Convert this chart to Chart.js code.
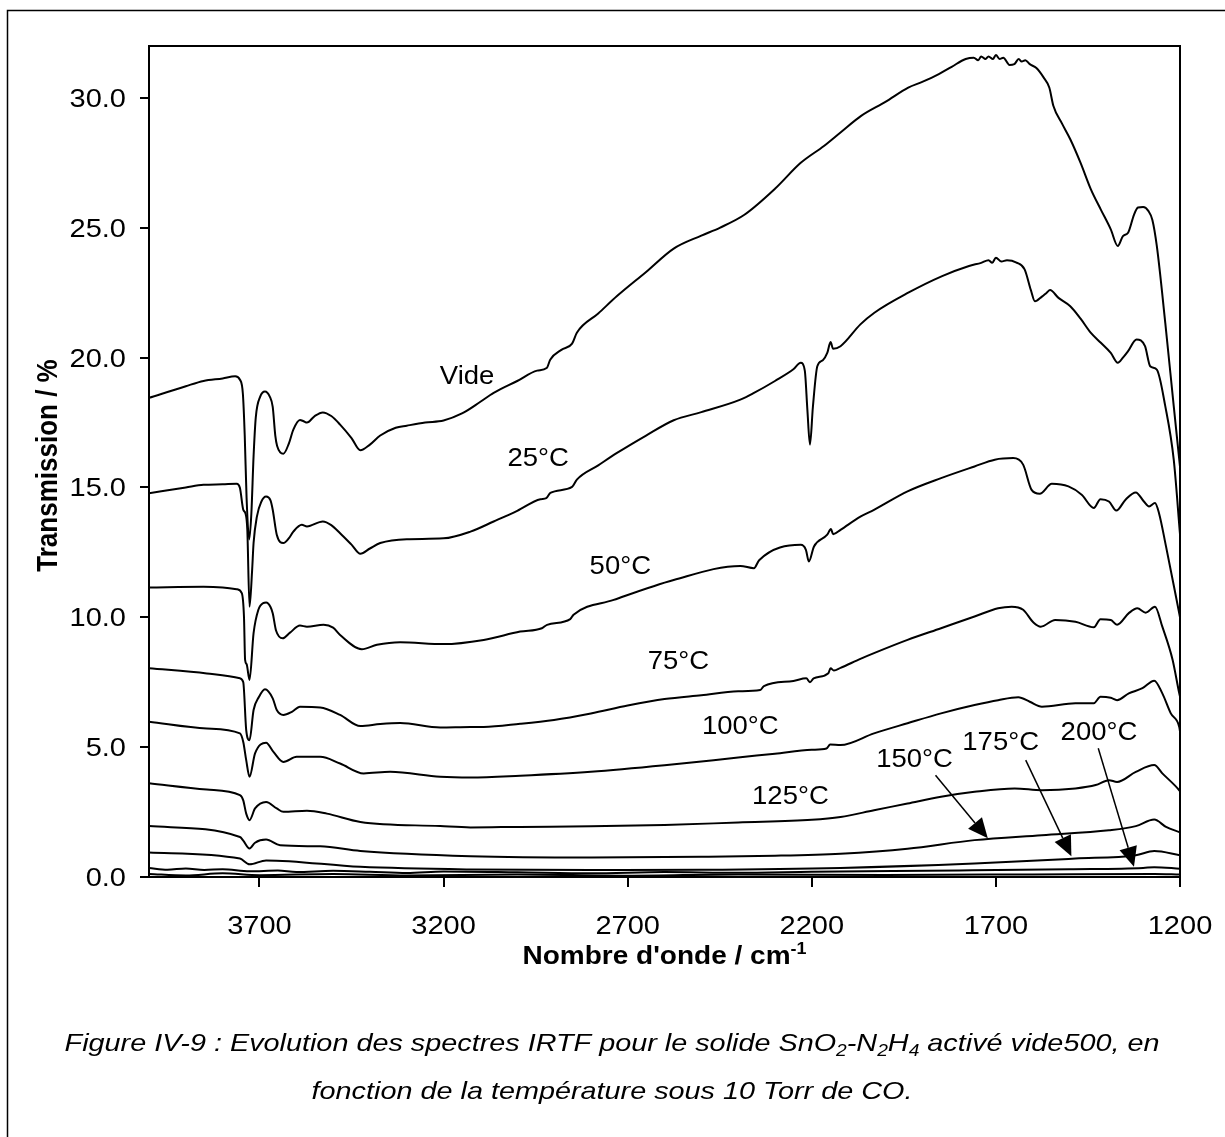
<!DOCTYPE html>
<html><head><meta charset="utf-8">
<script src="https://cdn.jsdelivr.net/npm/chart.js@4/dist/chart.umd.min.js"></script>
<style>html,body{margin:0;padding:0;background:#fff;}#wrap{width:1225px;height:1137px;}</style>
</head><body><div id="wrap"><canvas id="c" width="1225" height="1137"></canvas></div>
<script>
// ---------- data (wavenumber cm-1, transmission %) ----------
const vide = [[4000,18.45],[3900,18.9],[3852,19.1],[3800,19.2],[3766,19.28],[3753,19.15],[3745,18.6],[3740,17.0],[3735,14.6],[3728,13.0],[3722,14.0],[3716,16.2],[3710,17.7],[3698,18.5],[3685,18.7],[3672,18.5],[3664,18.1],[3657,17.0],[3652,16.6],[3635,16.3],[3620,16.7],[3608,17.23],[3590,17.6],[3580,17.55],[3571,17.5],[3550,17.75],[3528,17.89],[3505,17.75],[3481,17.42],[3450,16.9],[3426,16.43],[3400,16.65],[3372,17.0],[3330,17.3],[3300,17.38],[3250,17.5],[3200,17.58],[3150,17.85],[3100,18.3],[3064,18.64],[3000,19.1],[2946,19.5],[2920,19.6],[2910,19.93],[2880,20.3],[2851,20.54],[2838,20.96],[2780,21.7],[2729,22.37],[2650,23.3],[2575,24.2],[2500,24.7],[2450,25.0],[2383,25.5],[2300,26.5],[2230,27.5],[2167,28.15],[2122,28.67],[2066,29.31],[2000,29.85],[1938,30.4],[1900,30.62],[1855,30.92],[1820,31.2],[1782,31.5],[1760,31.55],[1748,31.45],[1740,31.6],[1728,31.5],[1720,31.6],[1708,31.5],[1700,31.65],[1690,31.5],[1680,31.55],[1663,31.27],[1650,31.3],[1638,31.5],[1630,31.4],[1620,31.45],[1608,31.3],[1590,31.15],[1571,30.8],[1555,30.4],[1544,29.7],[1520,29.0],[1498,28.41],[1470,27.5],[1442,26.48],[1415,25.7],[1388,24.94],[1369,24.3],[1355,24.68],[1341,24.81],[1325,25.5],[1314,25.78],[1300,25.8],[1286,25.65],[1275,25.3],[1263,24.3],[1240,21.34],[1217,18.13],[1200,15.8]];
const t25 = [[4000,14.78],[3900,15.0],[3852,15.1],[3800,15.12],[3762,15.14],[3753,14.98],[3744,14.14],[3738,14.0],[3733,13.37],[3727,10.41],[3720,11.8],[3716,12.86],[3707,13.88],[3695,14.45],[3682,14.65],[3670,14.5],[3664,14.14],[3653,13.18],[3635,12.86],[3620,13.05],[3608,13.3],[3585,13.56],[3571,13.5],[3528,13.69],[3505,13.55],[3481,13.24],[3450,12.8],[3426,12.45],[3400,12.65],[3372,12.86],[3300,13.01],[3200,13.04],[3127,13.3],[3064,13.69],[3000,14.1],[2937,14.55],[2921,14.59],[2910,14.79],[2851,15.02],[2838,15.3],[2780,15.85],[2729,16.33],[2650,17.0],[2575,17.59],[2500,17.9],[2394,18.38],[2357,18.64],[2300,19.1],[2250,19.55],[2230,19.8],[2219,19.5],[2212,18.0],[2205,16.65],[2197,18.1],[2185,19.67],[2170,19.9],[2158,20.18],[2149,20.6],[2142,20.34],[2122,20.44],[2068,21.28],[2030,21.73],[1938,22.5],[1846,23.14],[1773,23.53],[1740,23.65],[1720,23.75],[1710,23.65],[1700,23.85],[1685,23.7],[1670,23.75],[1644,23.66],[1622,23.4],[1605,22.6],[1594,22.17],[1575,22.35],[1562,22.5],[1553,22.6],[1530,22.3],[1498,21.98],[1470,21.5],[1442,20.95],[1415,20.57],[1388,20.18],[1369,19.8],[1355,20.0],[1341,20.25],[1318,20.7],[1295,20.44],[1281,19.67],[1263,19.54],[1240,18.13],[1217,16.07],[1200,13.2]];
const t50 = [[4000,11.15],[3852,11.18],[3800,11.15],[3762,11.08],[3748,10.93],[3742,10.0],[3739,8.36],[3735,8.2],[3727,7.59],[3716,9.39],[3703,10.29],[3690,10.55],[3682,10.57],[3670,10.4],[3664,10.16],[3655,9.49],[3637,9.19],[3617,9.41],[3590,9.68],[3571,9.64],[3526,9.71],[3500,9.6],[3481,9.32],[3422,8.77],[3381,8.94],[3318,9.04],[3200,8.97],[3091,9.13],[2992,9.45],[2933,9.58],[2919,9.71],[2856,9.93],[2847,10.1],[2738,10.67],[2575,11.44],[2394,11.98],[2357,11.89],[2343,12.2],[2230,12.79],[2216,12.6],[2208,12.15],[2194,12.73],[2158,13.18],[2148,13.4],[2142,13.2],[2122,13.37],[2068,13.88],[2031,14.14],[1940,14.85],[1849,15.36],[1758,15.81],[1703,16.07],[1653,16.13],[1626,15.88],[1603,14.91],[1581,14.76],[1548,15.14],[1503,15.04],[1467,14.72],[1434,14.21],[1416,14.55],[1393,14.46],[1373,14.11],[1348,14.53],[1320,14.81],[1298,14.46],[1284,14.27],[1268,14.4],[1257,14.01],[1238,12.73],[1211,10.8],[1200,10.0]];
const t75 = [[4000,8.04],[3843,7.84],[3753,7.65],[3744,7.5],[3736,5.66],[3727,5.27],[3716,6.43],[3702,6.92],[3685,7.23],[3664,6.88],[3653,6.43],[3635,6.24],[3612,6.36],[3590,6.56],[3535,6.53],[3481,6.24],[3426,5.81],[3372,5.89],[3318,5.93],[3209,5.76],[3127,5.78],[3091,5.78],[2992,5.9],[2900,6.05],[2800,6.3],[2700,6.6],[2600,6.85],[2500,7.0],[2400,7.15],[2340,7.2],[2330,7.35],[2250,7.55],[2215,7.65],[2205,7.5],[2195,7.65],[2155,7.85],[2149,8.04],[2140,7.95],[2122,8.05],[2068,8.4],[2031,8.62],[1940,9.13],[1849,9.58],[1758,10.03],[1694,10.35],[1657,10.41],[1626,10.29],[1598,9.8],[1578,9.64],[1539,9.9],[1484,9.83],[1434,9.62],[1416,9.93],[1388,9.9],[1371,9.71],[1339,10.16],[1316,10.35],[1293,10.18],[1268,10.41],[1248,9.64],[1220,8.36],[1202,7.07],[1200,6.95]];
const t100 = [[4000,5.98],[3843,5.72],[3753,5.53],[3744,5.2],[3736,4.5],[3727,3.86],[3712,4.76],[3682,5.17],[3662,4.82],[3635,4.43],[3599,4.63],[3535,4.63],[3481,4.37],[3417,3.99],[3345,4.05],[3209,3.86],[3127,3.83],[2992,3.9],[2800,4.05],[2600,4.3],[2400,4.6],[2300,4.75],[2200,4.9],[2160,4.95],[2150,5.1],[2122,5.08],[2031,5.53],[1940,5.92],[1849,6.3],[1758,6.62],[1694,6.81],[1639,6.92],[1608,6.75],[1575,6.56],[1484,6.69],[1434,6.69],[1416,6.94],[1388,6.9],[1371,6.81],[1339,7.07],[1302,7.27],[1270,7.56],[1248,7.07],[1225,6.3],[1202,5.78],[1200,5.6]];
const t125 = [[4000,3.61],[3843,3.37],[3753,3.15],[3744,2.95],[3736,2.44],[3727,2.19],[3712,2.64],[3682,2.89],[3653,2.64],[3635,2.51],[3571,2.55],[3517,2.44],[3426,2.12],[3209,1.96],[3127,1.91],[2992,1.93],[2800,1.95],[2600,2.0],[2400,2.1],[2200,2.2],[2122,2.31],[2031,2.57],[1940,2.83],[1849,3.09],[1758,3.28],[1649,3.41],[1575,3.34],[1484,3.41],[1429,3.54],[1393,3.73],[1371,3.66],[1320,4.05],[1270,4.31],[1248,3.99],[1202,3.34],[1200,3.3]];
const t150 = [[4000,1.96],[3753,1.54],[3744,1.4],[3727,1.1],[3712,1.32],[3682,1.44],[3644,1.22],[3535,1.18],[3426,1.0],[3127,0.8],[2800,0.75],[2500,0.78],[2300,0.82],[2122,0.9],[1940,1.09],[1758,1.42],[1575,1.61],[1393,1.8],[1320,1.96],[1270,2.21],[1238,1.93],[1200,1.72]];
const t175 = [[4000,0.94],[3753,0.71],[3727,0.49],[3682,0.64],[3426,0.39],[3127,0.29],[2800,0.27],[2500,0.28],[2122,0.35],[1758,0.52],[1484,0.71],[1320,0.84],[1270,1.0],[1200,0.84]];
const t200 = [[4000,0.35],[3950,0.28],[3900,0.33],[3850,0.27],[3800,0.3],[3727,0.22],[3650,0.25],[3600,0.19],[3500,0.24],[3400,0.2],[3300,0.15],[3200,0.21],[3000,0.18],[2800,0.14],[2600,0.19],[2400,0.16],[2200,0.2],[1800,0.25],[1500,0.3],[1300,0.35],[1270,0.38],[1200,0.32]];
const tBase = [[4000,0.12],[3900,0.06],[3800,0.14],[3700,0.07],[3500,0.12],[3300,0.06],[3000,0.1],[2700,0.05],[2400,0.1],[2000,0.08],[1600,0.1],[1270,0.12],[1200,0.1]];

const seriesList = [vide, t25, t50, t75, t100, t125, t150, t175, t200, tBase];
const curveLabelText = ['Vide','25°C','50°C','75°C','100°C','125°C','150°C','175°C','200°C'];
const curveLabelAt = [[3136,19.34],[2943,16.18],[2720,12.02],[2562,8.36],[2394,5.85],[2258,3.15],[1921,4.57],[1687,5.23],[1420,5.62]];
const arrowFromTo = [[1864,3.92,1722,1.49],[1619,4.5,1495,0.8],[1422,4.96,1325,0.39]];

const xTickValues = [3700,3200,2700,2200,1700,1200];
const xTickLabels = ['3700','3200','2700','2200','1700','1200'];
const yTickValues = [0,5,10,15,20,25,30];
const yTickLabels = ['0.0','5.0','10.0','15.0','20.0','25.0','30.0'];

const xTitle = "Nombre d'onde / cm";
const xTitleSup = '-1';
const yTitle = 'Transmission / %';
const captionLine1 = [['Figure IV-9 : Evolution des spectres IRTF pour le solide SnO',0],['2',1],['-N',0],['2',1],['H',0],['4',1],[' activé vide500, en',0]];
const captionLine2 = [['fonction de la température sous 10 Torr de CO.',0]];

// ---------- drawing helpers ----------
const FONT = '"Liberation Sans", Arial, sans-serif';
const SX = 1.16;
function fnt(size, weight, style){ return `${style||'normal'} ${weight||'normal'} ${size}px ${FONT}`; }
function rich(ctx, segs, cx, cy, size, weight, style, align, sx){
  const k = sx || SX;
  const parts = segs.map(([t,m])=>{
    const s = m ? Math.round(size*0.65) : size;
    ctx.font = fnt(s, weight, style);
    return {t, m, s, w: ctx.measureText(t).width*k};
  });
  const total = parts.reduce((a,p)=>a+p.w,0);
  let x = align==='right' ? cx-total : (align==='left' ? cx : cx-total/2);
  ctx.textBaseline = 'alphabetic'; ctx.textAlign='left';
  const base = cy + size*0.36;
  for(const p of parts){
    ctx.save();
    ctx.font = fnt(p.s, weight, style);
    const dy = p.m===1 ? size*0.22 : (p.m===2 ? -size*0.42 : 0);
    ctx.translate(x, base+dy); ctx.scale(k,1); ctx.fillText(p.t,0,0);
    ctx.restore();
    x += p.w;
  }
}

const decor = {
  id:'decor',
  afterDraw(chart){
    const {ctx, chartArea:a, scales:{x, y}} = chart;
    ctx.save();
    ctx.strokeStyle='#000'; ctx.fillStyle='#000';
    ctx.lineWidth=2;
    ctx.beginPath(); ctx.moveTo(a.left-1,a.top); ctx.lineTo(a.right,a.top); ctx.lineTo(a.right,a.bottom+1); ctx.stroke();
    ctx.lineWidth=1.5;
    ctx.beginPath(); ctx.moveTo(7.5,1137); ctx.lineTo(7.5,10.5); ctx.lineTo(1225,10.5); ctx.stroke();
    yTickValues.forEach((v,i)=>{ rich(ctx, [[yTickLabels[i],0]], a.left-23, y.getPixelForValue(v), 25, 'normal','normal','right'); });
    xTickValues.forEach((v,i)=>{ rich(ctx, [[xTickLabels[i],0]], x.getPixelForValue(v), a.bottom+48, 25, 'normal','normal','center'); });
    rich(ctx, [[xTitle,0],[xTitleSup,2]], (a.left+a.right)/2, a.bottom+78, 25, 'bold','normal','center', 1.12);
    ctx.save();
    ctx.translate(49,(a.top+a.bottom)/2+4); ctx.rotate(-Math.PI/2);
    ctx.font = fnt(26,'bold'); ctx.textAlign='center'; ctx.textBaseline='middle';
    ctx.scale(1,SX); ctx.fillText(yTitle,0,0);
    ctx.restore();
    curveLabelText.forEach((t,i)=>{
      const [wx,wy] = curveLabelAt[i];
      rich(ctx, [[t,0]], x.getPixelForValue(wx), y.getPixelForValue(wy), 25, 'normal','normal','center', 1.1);
    });
    arrowFromTo.forEach(([x0,y0,x1,y1])=>{
      const px0=x.getPixelForValue(x0), py0=y.getPixelForValue(y0), px1=x.getPixelForValue(x1), py1=y.getPixelForValue(y1);
      const ang=Math.atan2(py1-py0,px1-px0), L=20, W=9;
      const bx=px1-L*Math.cos(ang), by=py1-L*Math.sin(ang);
      ctx.lineWidth=1.5;
      ctx.beginPath(); ctx.moveTo(px0,py0); ctx.lineTo(bx,by); ctx.stroke();
      ctx.beginPath(); ctx.moveTo(px1,py1);
      ctx.lineTo(bx+W*Math.sin(ang), by-W*Math.cos(ang));
      ctx.lineTo(bx-W*Math.sin(ang), by+W*Math.cos(ang));
      ctx.closePath(); ctx.fill();
    });
    rich(ctx, captionLine1, 612, 1042, 24, 'normal','italic','center', 1.2);
    rich(ctx, captionLine2, 612, 1090, 24, 'normal','italic','center', 1.2);
    ctx.restore();
  }
};

new Chart(document.getElementById('c'), {
  type:'line',
  data:{ datasets: seriesList.map(s=>({
    data: s.slice().reverse().map(([wx,wy])=>({x:wx,y:wy})),
    borderColor:'#000', borderWidth:2, pointRadius:0, fill:false, cubicInterpolationMode:'monotone'
  }))},
  options:{
    responsive:false, animation:false, devicePixelRatio:1,
    layout:{padding:{left:0,top:46,right:45,bottom:160}},
    plugins:{legend:{display:false}, tooltip:{enabled:false}},
    scales:{
      x:{type:'linear', reverse:true, min:1200, max:4000,
        afterBuildTicks:s=>{ s.ticks = xTickValues.map(v=>({value:v})); },
        afterFit:s=>{ s.height=100; },
        ticks:{display:false},
        grid:{display:true, drawOnChartArea:false, drawTicks:true, tickLength:10, color:'#000', lineWidth:2},
        border:{display:true, color:'#000', width:2}},
      y:{type:'linear', min:0, max:32,
        afterBuildTicks:s=>{ s.ticks = yTickValues.map(v=>({value:v})); },
        afterFit:s=>{ s.width=149; },
        ticks:{display:false},
        grid:{display:true, drawOnChartArea:false, drawTicks:true, tickLength:9, color:'#000', lineWidth:2},
        border:{display:true, color:'#000', width:2}}
    }
  },
  plugins:[decor]
});
</script></body></html>
